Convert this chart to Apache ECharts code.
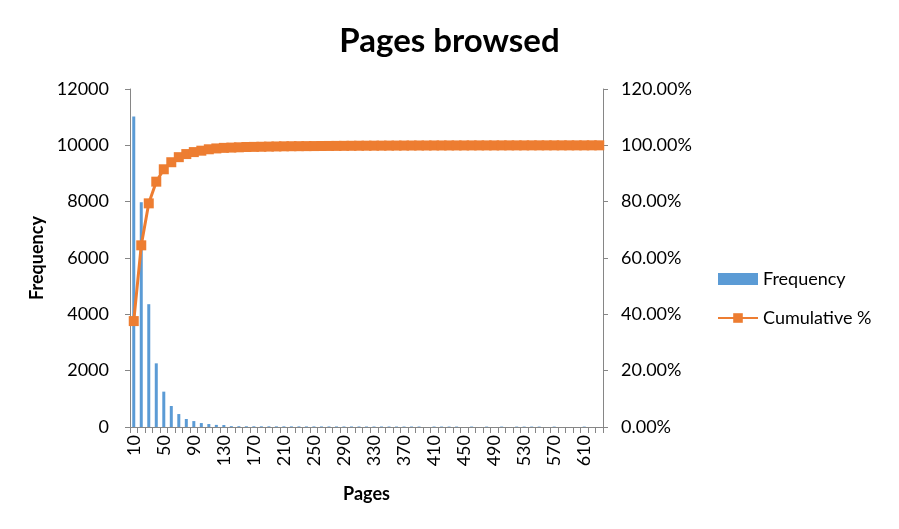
<!DOCTYPE html>
<html>
<head>
<meta charset="utf-8">
<script src="https://cdn.jsdelivr.net/npm/echarts@6/dist/echarts.min.js"></script>
<style>html,body{margin:0;padding:0;background:#fff;}#c{width:899px;height:529px;}</style>
</head>
<body>
<div id="c"></div>
<script>
const categories = [10,20,30,40,50,60,70,80,90,100,110,120,130,140,150,160,170,180,190,200,
  210,220,230,240,250,260,270,280,290,300,310,320,330,340,350,360,370,380,390,400,
  410,420,430,440,450,460,470,480,490,500,510,520,530,540,550,560,570,580,590,600,
  610,620,630];
const frequency = [11020,7980,4360,2260,1255,745,460,285,210,140,105,75,70,30,28,26,25,24,24,23,
  23,22,22,21,21,20,20,20,19,19,19,18,18,18,18,17,17,17,17,0,
  17,16,16,16,0,16,0,15,0,15,0,15,15,15,15,0,15,0,0,0,
  15,0,0];
const cumulative = [37.6,64.5,79.4,87.1,91.5,94.0,95.8,96.9,97.6,98.1,98.6,98.9,99.1,99.2,99.3,99.4,99.45,99.5,99.55,99.6,
  99.65,99.68,99.7,99.72,99.74,99.76,99.78,99.8,99.82,99.84,99.86,99.87,99.88,99.89,99.9,99.91,99.92,99.93,99.94,99.94,
  99.95,99.95,99.96,99.96,99.96,99.97,99.97,99.97,99.97,99.98,99.98,99.98,99.98,99.99,99.99,99.99,99.99,99.99,99.99,99.99,
  99.99,100,100];
const freqTicks = [0,2000,4000,6000,8000,10000,12000];

const FONT = 'Lato';
const axisLineStyle = {color:'#868686', width:1};
const chart = echarts.init(document.getElementById('c'), null, {renderer:'canvas'});
chart.setOption({
  animation:false,
  textStyle:{fontFamily:FONT},
  title:{
    text:'Pages browsed', left:'center', top:20,
    textStyle:{fontFamily:FONT, fontWeight:'bold', fontSize:33, color:'#000'}
  },
  legend:{
    orient:'vertical', left:712, top:265, itemGap:21, itemWidth:40, itemHeight:12,
    textStyle:{fontFamily:FONT, fontSize:18, color:'#000'},
    data:[{name:'Frequency', icon:'rect'}, {name:'Cumulative %'}]
  },
  grid:{left:130, right:296, top:89, bottom:102, containLabel:false},
  xAxis:{
    type:'category', data:categories, boundaryGap:true,
    name:'Pages', nameLocation:'middle', nameGap:58,
    nameTextStyle:{fontFamily:FONT, fontWeight:'bold', fontSize:18, color:'#000'},
    axisLine:{lineStyle:axisLineStyle},
    axisTick:{show:true, interval:0, length:6, lineStyle:axisLineStyle},
    axisLabel:{interval:3, rotate:90, fontSize:18, color:'#000', fontFamily:FONT, margin:8}
  },
  yAxis:[{
    type:'value', min:freqTicks[0], max:freqTicks[freqTicks.length-1], interval:2000,
    name:'Frequency', nameLocation:'middle', nameGap:84,
    nameTextStyle:{fontFamily:FONT, fontWeight:'bold', fontSize:18, color:'#000'},
    axisLine:{show:true, lineStyle:axisLineStyle},
    axisTick:{show:true, length:5, lineStyle:axisLineStyle},
    splitLine:{show:false},
    axisLabel:{fontSize:18, color:'#000', fontFamily:FONT, margin:21,
      formatter:function(v){return String(v);}}
  },{
    type:'value', min:0, max:120, interval:20, position:'right',
    axisLine:{show:true, lineStyle:axisLineStyle},
    axisTick:{show:true, length:5, lineStyle:axisLineStyle},
    splitLine:{show:false},
    axisLabel:{fontSize:18, color:'#000', fontFamily:FONT, margin:18,
      formatter:function(v){return v.toFixed(2)+'%';}}
  }],
  series:[{
    name:'Frequency', type:'bar', data:frequency, barWidth:3,
    itemStyle:{color:'#5B9BD5'}
  },{
    name:'Cumulative %', type:'line', yAxisIndex:1, data:cumulative,
    symbol:'rect', symbolSize:10, showAllSymbol:true,
    lineStyle:{color:'#ED7D31', width:3},
    itemStyle:{color:'#ED7D31'}
  }]
});
</script>
</body>
</html>
